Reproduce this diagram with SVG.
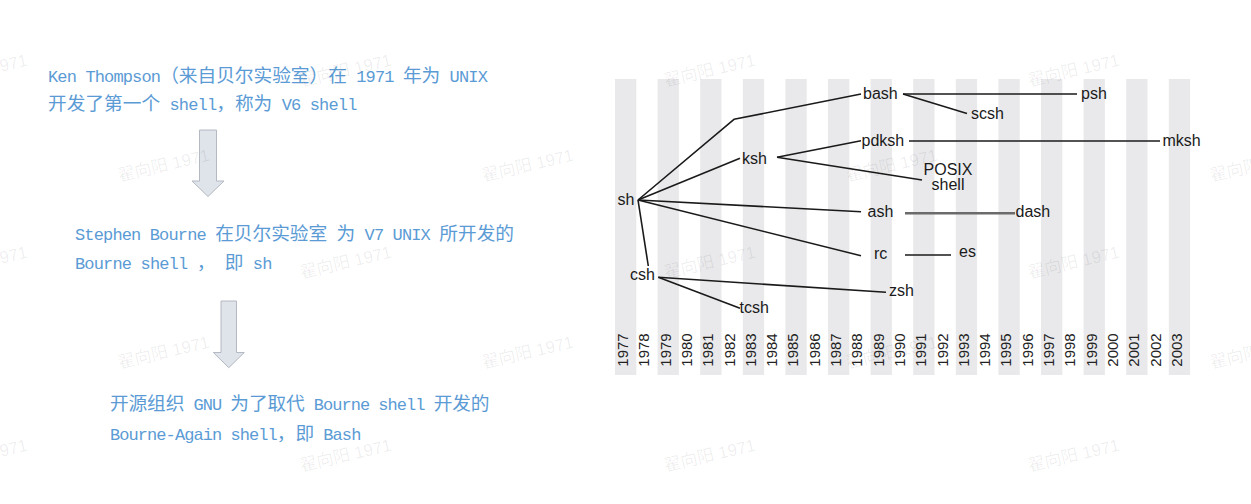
<svg xmlns="http://www.w3.org/2000/svg" width="1251" height="504" viewBox="0 0 1251 504">
<style>
.t{font-family:"Liberation Mono","Noto Sans CJK SC",monospace;font-size:17px;letter-spacing:-0.85px;fill:#5b9bd5}
.c{font-family:"Noto Sans CJK SC",sans-serif;font-size:18.7px;letter-spacing:0}
.arrow{fill:#dfe3ea;stroke:#b4b9c2;stroke-width:1}
.stripe{fill:#e9e9eb}
.yr{font-family:"Liberation Sans",Arial,sans-serif;font-size:15px;fill:#222;text-anchor:middle}
.lbl{font-family:"Liberation Sans",Arial,sans-serif;font-size:16px;fill:#1a1a1a}
.ln{fill:none;stroke:#1a1a1a;stroke-width:1.6;stroke-linejoin:round}
.ln2{fill:none;stroke:#6b6b6b;stroke-width:2.6}
.wm{font-family:"Liberation Sans","Noto Sans CJK SC",sans-serif;font-size:17px;fill:#000;fill-opacity:0.07;text-anchor:middle}
</style>
<rect width="1251" height="504" fill="#ffffff"/>

<g id="history-text">
<g id="step1">
<text class="t" x="48" y="81.5" textLength="439" lengthAdjust="spacing">Ken Thompson<tspan class="c">（来自贝尔实验室）在</tspan> 1971 <tspan class="c">年为</tspan> UNIX</text>
<text class="t" x="48" y="109.5" textLength="308.5" lengthAdjust="spacing"><tspan class="c">开发了第一个</tspan> shell<tspan class="c">，称为</tspan> V6 shell</text>
</g>
<polygon id="arrow1" class="arrow" points="199.5,130 216.5,130 216.5,181 224,181 208,196.5 192,181 199.5,181"/>
<g id="step2">
<text class="t" x="75" y="240" textLength="439" lengthAdjust="spacing">Stephen Bourne <tspan class="c">在贝尔实验室</tspan> <tspan class="c">为</tspan> V7 UNIX <tspan class="c">所开发的</tspan></text>
<text class="t" x="75" y="269" textLength="196.5" lengthAdjust="spacing">Bourne shell <tspan class="c">，</tspan> <tspan class="c">即</tspan> sh</text>
</g>
<polygon id="arrow2" class="arrow" points="221,301 236.5,301 236.5,352.5 244.3,352.5 228.8,367.7 213.3,352.5 221,352.5"/>
<g id="step3">
<text class="t" x="110" y="410" textLength="379.5" lengthAdjust="spacing"><tspan class="c">开源组织</tspan> GNU <tspan class="c">为了取代</tspan> Bourne shell <tspan class="c">开发的</tspan></text>
<text class="t" x="110" y="440" textLength="250.5" lengthAdjust="spacing">Bourne-Again shell<tspan class="c">，即</tspan> Bash</text>
</g>
</g>

<g id="timeline">
<rect class="stripe" x="615" y="79" width="21.3" height="296"/>
<rect class="stripe" x="657.6" y="79" width="21.3" height="296"/>
<rect class="stripe" x="700.2" y="79" width="21.3" height="296"/>
<rect class="stripe" x="742.8" y="79" width="21.3" height="296"/>
<rect class="stripe" x="785.4" y="79" width="21.3" height="296"/>
<rect class="stripe" x="828" y="79" width="21.3" height="296"/>
<rect class="stripe" x="870.6" y="79" width="21.3" height="296"/>
<rect class="stripe" x="913.2" y="79" width="21.3" height="296"/>
<rect class="stripe" x="955.8" y="79" width="21.3" height="296"/>
<rect class="stripe" x="998.4" y="79" width="21.3" height="296"/>
<rect class="stripe" x="1041" y="79" width="21.3" height="296"/>
<rect class="stripe" x="1083.6" y="79" width="21.3" height="296"/>
<rect class="stripe" x="1126.2" y="79" width="21.3" height="296"/>
<rect class="stripe" x="1168.8" y="79" width="21.3" height="296"/>
</g>

<g id="years">
<text class="yr" transform="translate(628,350) rotate(-90)">1977</text>
<text class="yr" transform="translate(649.3,350) rotate(-90)">1978</text>
<text class="yr" transform="translate(670.6,350) rotate(-90)">1979</text>
<text class="yr" transform="translate(691.9,350) rotate(-90)">1980</text>
<text class="yr" transform="translate(713.2,350) rotate(-90)">1981</text>
<text class="yr" transform="translate(734.5,350) rotate(-90)">1982</text>
<text class="yr" transform="translate(755.8,350) rotate(-90)">1983</text>
<text class="yr" transform="translate(777.1,350) rotate(-90)">1984</text>
<text class="yr" transform="translate(798.4,350) rotate(-90)">1985</text>
<text class="yr" transform="translate(819.7,350) rotate(-90)">1986</text>
<text class="yr" transform="translate(841,350) rotate(-90)">1987</text>
<text class="yr" transform="translate(862.3,350) rotate(-90)">1988</text>
<text class="yr" transform="translate(883.6,350) rotate(-90)">1989</text>
<text class="yr" transform="translate(904.9,350) rotate(-90)">1990</text>
<text class="yr" transform="translate(926.2,350) rotate(-90)">1991</text>
<text class="yr" transform="translate(947.5,350) rotate(-90)">1992</text>
<text class="yr" transform="translate(968.8,350) rotate(-90)">1993</text>
<text class="yr" transform="translate(990.1,350) rotate(-90)">1994</text>
<text class="yr" transform="translate(1011.4,350) rotate(-90)">1995</text>
<text class="yr" transform="translate(1032.7,350) rotate(-90)">1996</text>
<text class="yr" transform="translate(1054,350) rotate(-90)">1997</text>
<text class="yr" transform="translate(1075.3,350) rotate(-90)">1998</text>
<text class="yr" transform="translate(1096.6,350) rotate(-90)">1999</text>
<text class="yr" transform="translate(1117.9,350) rotate(-90)">2000</text>
<text class="yr" transform="translate(1139.2,350) rotate(-90)">2001</text>
<text class="yr" transform="translate(1160.5,350) rotate(-90)">2002</text>
<text class="yr" transform="translate(1181.8,350) rotate(-90)">2003</text>
</g>

<g id="connectors">
<polyline class="ln" points="638,200 734,119.3 861,94"/>
<line class="ln" x1="903" y1="94" x2="1077" y2="94"/>
<line class="ln" x1="903" y1="94" x2="967" y2="113.5"/>
<line class="ln" x1="638" y1="200" x2="740" y2="158.3"/>
<line class="ln" x1="777" y1="157.3" x2="861" y2="140.7"/>
<line class="ln" x1="909" y1="141" x2="1160" y2="141"/>
<line class="ln" x1="777" y1="157.3" x2="922" y2="180"/>
<line class="ln" x1="638" y1="200" x2="861" y2="211.7"/>
<line class="ln2" x1="905" y1="213.3" x2="1015" y2="213.3"/>
<line class="ln" x1="638" y1="200" x2="861" y2="255.7"/>
<line class="ln" x1="905" y1="255" x2="951" y2="255"/>
<line class="ln" x1="638" y1="200" x2="648.3" y2="266"/>
<line class="ln" x1="658.3" y1="277.3" x2="886" y2="292.3"/>
<line class="ln" x1="658.3" y1="277.3" x2="740" y2="308.3"/>
</g>

<g id="node-sh"><text class="lbl" x="617.5" y="205">sh</text></g>
<g id="node-bash"><text class="lbl" x="863" y="98.5">bash</text></g>
<g id="node-psh"><text class="lbl" x="1081" y="99">psh</text></g>
<g id="node-scsh"><text class="lbl" x="971" y="119">scsh</text></g>
<g id="node-ksh"><text class="lbl" x="742" y="163.5">ksh</text></g>
<g id="node-pdksh"><text class="lbl" x="861.5" y="146">pdksh</text></g>
<g id="node-mksh"><text class="lbl" x="1162.5" y="146">mksh</text></g>
<g id="node-posix"><text class="lbl" x="948" y="175" text-anchor="middle">POSIX</text><text class="lbl" x="948" y="190" text-anchor="middle">shell</text></g>
<g id="node-ash"><text class="lbl" x="867.5" y="216.5">ash</text></g>
<g id="node-dash"><text class="lbl" x="1015.5" y="216.5">dash</text></g>
<g id="node-rc"><text class="lbl" x="874" y="258.5">rc</text></g>
<g id="node-es"><text class="lbl" x="959" y="256.5">es</text></g>
<g id="node-csh"><text class="lbl" x="630" y="280">csh</text></g>
<g id="node-zsh"><text class="lbl" x="889" y="296">zsh</text></g>
<g id="node-tcsh"><text class="lbl" x="739.5" y="312.5">tcsh</text></g>

<g id="watermarks">
<text class="wm" transform="translate(-17,76) rotate(-13)">翟向阳 1971</text>
<text class="wm" transform="translate(-17,268) rotate(-13)">翟向阳 1971</text>
<text class="wm" transform="translate(-17,461) rotate(-13)">翟向阳 1971</text>
<text class="wm" transform="translate(165,171) rotate(-13)">翟向阳 1971</text>
<text class="wm" transform="translate(165,358) rotate(-13)">翟向阳 1971</text>
<text class="wm" transform="translate(347,76) rotate(-13)">翟向阳 1971</text>
<text class="wm" transform="translate(347,268) rotate(-13)">翟向阳 1971</text>
<text class="wm" transform="translate(347,461) rotate(-13)">翟向阳 1971</text>
<text class="wm" transform="translate(529,171) rotate(-13)">翟向阳 1971</text>
<text class="wm" transform="translate(529,358) rotate(-13)">翟向阳 1971</text>
<text class="wm" transform="translate(711,76) rotate(-13)">翟向阳 1971</text>
<text class="wm" transform="translate(711,268) rotate(-13)">翟向阳 1971</text>
<text class="wm" transform="translate(711,461) rotate(-13)">翟向阳 1971</text>
<text class="wm" transform="translate(893,171) rotate(-13)">翟向阳 1971</text>
<text class="wm" transform="translate(893,358) rotate(-13)">翟向阳 1971</text>
<text class="wm" transform="translate(1075,76) rotate(-13)">翟向阳 1971</text>
<text class="wm" transform="translate(1075,268) rotate(-13)">翟向阳 1971</text>
<text class="wm" transform="translate(1075,461) rotate(-13)">翟向阳 1971</text>
<text class="wm" transform="translate(1257,171) rotate(-13)">翟向阳 1971</text>
<text class="wm" transform="translate(1257,358) rotate(-13)">翟向阳 1971</text>
</g>
</svg>
